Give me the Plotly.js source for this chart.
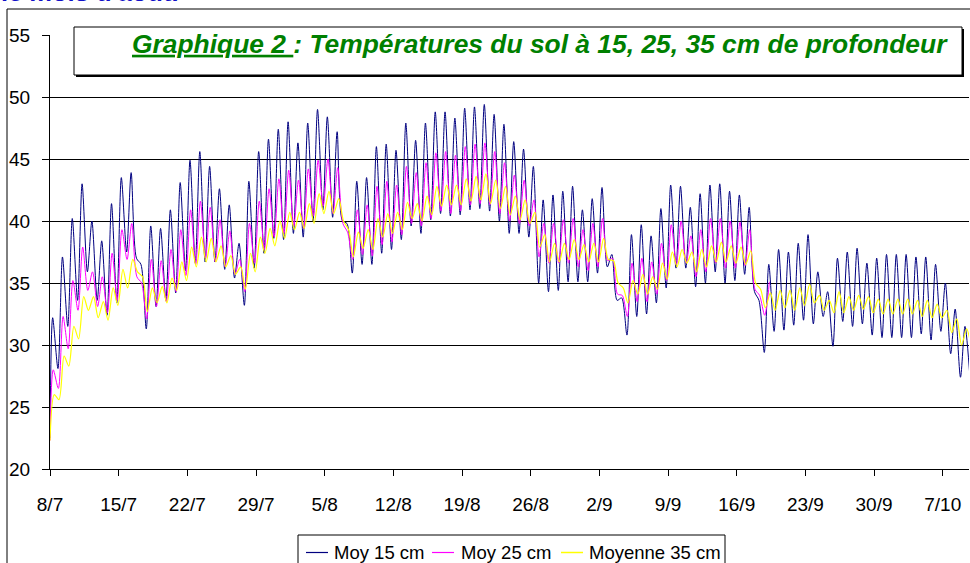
<!DOCTYPE html>
<html>
<head>
<meta charset="utf-8">
<script src="https://cdn.plot.ly/plotly-3.0.1.min.js"></script>
<style>
  html, body { margin: 0; padding: 0; background: #fff; }
  #chart { width: 970px; height: 563px; }
</style>
</head>
<body>
<div id="chart"></div>
<script>
// ---------- DATA ----------
// Day index 0 = 8 July; one daily maximum and one daily minimum per series (°C)
var seriesNames = ['Moy 15 cm', 'Moy 25 cm', 'Moyenne 35 cm'];
var seriesColors = ['#000080', '#FF00FF', '#FFFF00'];

var start15 = 22.5, start25 = 22.3, start35 = 22.3;

var max15 = [32.2, 37.1, 40.2, 43.0, 40.0, 38.4, 41.4, 43.5, 43.9, 36.5,
             39.6, 39.4, 40.9, 43.1, 44.9, 45.6, 44.4, 42.6, 41.3, 38.2,
             43.2, 45.6, 46.6, 47.4, 48.0, 46.3, 47.9, 49.0, 48.4, 47.2,
             39.8, 43.2, 43.5, 46.0, 46.2, 45.7, 47.9, 46.5, 47.9, 48.8,
             48.8, 48.3, 49.1, 49.2, 49.4, 48.6, 47.8, 46.4, 45.8, 44.4,
             41.7, 42.1, 42.4, 42.8, 40.9, 41.8, 42.7, 37.3, 33.8, 38.9,
             39.7, 38.8, 41.0, 42.9, 42.8, 41.1, 42.2, 42.9, 43.0, 42.4,
             42.1, 41.1, 33.6, 36.5, 37.7, 37.5, 38.2, 38.9, 35.9, 34.3,
             37.0, 37.5, 37.8, 36.6, 37.0, 37.3, 37.3, 37.3, 37.1, 37.1,
             36.5, 35.0, 32.9, 31.5];
var min15 = [28.1, 31.5, 33.6, 35.9, 33.6, 32.4, 33.4, 37.5, 37.0, 31.3,
             33.1, 33.6, 34.2, 36.0, 36.6, 36.7, 36.7, 36.1, 35.4, 33.2,
             36.2, 37.4, 38.6, 38.5, 39.0, 38.7, 40.0, 40.9, 40.3, 40.0,
             35.8, 36.5, 36.5, 37.4, 37.7, 38.5, 39.6, 39.0, 40.1, 40.6,
             40.4, 40.5, 40.9, 41.0, 40.8, 40.0, 39.0, 39.0, 38.7, 35.0,
             34.3, 34.4, 35.1, 35.1, 35.1, 35.8, 36.3, 33.6, 30.8, 32.3,
             32.5, 33.4, 34.6, 36.2, 36.2, 34.7, 35.0, 35.9, 35.0, 35.2,
             35.7, 34.3, 29.4, 31.1, 31.2, 31.6, 32.0, 31.7, 32.3, 29.9,
             31.9, 31.5, 31.7, 30.8, 30.6, 30.6, 30.6, 30.6, 30.9, 30.4,
             31.1, 29.3, 27.4, 27.0];

var max25 = [28.0, 32.3, 35.2, 37.9, 35.9, 35.5, 37.4, 39.3, 39.8, 35.0,
             36.9, 36.8, 37.7, 39.3, 40.9, 41.6, 41.1, 40.1, 39.2, 36.9,
             39.8, 41.6, 42.6, 43.4, 44.1, 43.3, 44.2, 44.9, 45.0, 44.3,
             39.1, 40.9, 41.3, 42.8, 43.2, 42.9, 44.4, 43.9, 44.7, 45.5,
             45.6, 45.3, 46.0, 46.2, 46.3, 45.6, 44.7, 43.7, 43.3, 41.7,
             39.8, 39.8, 40.1, 40.2, 39.3, 39.8, 40.2, 37.0, 34.0, 36.6,
             37.0, 36.7, 38.2, 39.7, 40.0, 38.8, 39.3, 40.2, 40.2, 40.0,
             39.9, 39.3, 34.0, 35.1];
var min25 = [26.5, 29.7, 32.8, 34.4, 33.1, 32.6, 33.6, 36.9, 35.5, 32.1,
             33.1, 33.5, 34.3, 35.6, 36.5, 37.0, 36.7, 36.3, 35.7, 34.3,
             36.6, 37.7, 38.7, 39.0, 39.6, 39.4, 40.4, 41.2, 40.6, 39.8,
             36.9, 37.3, 37.2, 38.1, 38.3, 38.9, 39.8, 39.6, 40.2, 40.8,
             40.6, 40.8, 41.3, 41.4, 41.3, 40.6, 40.0, 39.8, 39.6, 37.1,
             36.6, 36.6, 36.6, 36.3, 36.0, 36.3, 36.8, 34.1, 32.3, 33.5,
             33.5, 34.1, 35.2, 36.5, 36.6, 35.5, 35.9, 36.6, 36.2, 36.2,
             36.4, 34.5, 32.4];

var max35 = [26.0, 29.1, 31.5, 33.9, 33.9, 33.5, 34.6, 36.1, 36.9, 35.5,
             34.6, 34.7, 35.4, 36.7, 37.9, 38.7, 38.6, 38.0, 37.2, 36.3,
             37.4, 38.7, 39.4, 40.0, 40.7, 40.7, 41.4, 42.2, 42.4, 41.8,
             39.3, 39.1, 39.3, 40.2, 40.6, 40.7, 41.5, 41.4, 42.0, 42.8,
             42.9, 42.9, 43.4, 43.6, 43.8, 43.3, 42.8, 42.0, 41.7, 40.7,
             38.9, 38.2, 38.2, 38.5, 38.1, 38.2, 38.6, 36.8, 34.6, 35.2,
             35.7, 35.5, 36.6, 37.5, 37.7, 37.5, 37.7, 38.0, 38.3, 38.0,
             37.9, 37.6, 34.5, 34.2, 34.4, 34.4, 34.6, 34.9, 34.0, 33.6,
             34.3, 33.9, 34.0, 33.9, 33.7, 33.7, 33.7, 33.7, 33.6, 33.6,
             33.3, 32.8, 32.1, 31.3];
var min35 = [25.6, 28.3, 30.5, 32.8, 32.2, 32.0, 33.2, 34.6, 35.9, 32.7,
             33.4, 33.4, 34.4, 35.2, 36.3, 36.7, 36.7, 36.3, 35.7, 34.5,
             35.9, 37.4, 38.0, 38.6, 39.3, 39.4, 39.8, 40.6, 40.6, 40.0,
             37.1, 37.8, 37.7, 38.7, 39.0, 39.3, 40.2, 40.0, 40.5, 41.2,
             41.3, 41.3, 41.6, 41.7, 41.4, 41.0, 40.5, 40.1, 39.8, 37.9,
             36.7, 36.7, 36.9, 36.9, 36.7, 36.7, 36.9, 35.0, 33.4, 34.1,
             34.1, 34.5, 35.3, 36.3, 36.6, 35.9, 36.3, 36.7, 36.7, 36.6,
             36.5, 35.0, 33.0, 32.8, 33.0, 32.8, 33.2, 33.4, 32.8, 32.6,
             32.6, 32.8, 32.9, 32.6, 32.5, 32.5, 32.5, 32.5, 32.3, 32.2,
             32.2, 31.0, 30.0, 29.8];

// hour of the day at which each depth reaches its daily max / min
var hourMax15 = 6.5, hourMin15 = 19.5;
var hourMax25 = 8.0, hourMin25 = 20.5;
var hourMax35 = 10.5, hourMin35 = 22.0;

var firstDay = '2003-07-08';
var lastHour = 93.68 * 24;

// ---------- BUILD ----------
var day0 = Date.parse(firstDay + 'T00:00:00Z');
function stamp(h) {
  return new Date(day0 + h * 3600000).toISOString().replace('T', ' ').slice(0, 19);
}
function build(startVal, maxs, mins, hMax, hMin) {
  var x = [stamp(0)], y = [startVal];
  for (var d = 0; d < maxs.length; d++) {
    x.push(stamp(d * 24 + hMax)); y.push(maxs[d]);
    if (d < mins.length) { x.push(stamp(d * 24 + hMin)); y.push(mins[d]); }
  }
  return {x: x, y: y};
}
var s15 = build(start15, max15, min15, hourMax15, hourMin15);
var s25 = build(start25, max25, min25, hourMax25, hourMin25);
var s35 = build(start35, max35, min35, hourMax35, hourMin35);
var built = [s15, s25, s35];

var FONT = 'Liberation Sans, Arial, sans-serif';

var traces = built.map(function (s, i) {
  return {x: s.x, y: s.y, name: seriesNames[i], type: 'scatter', mode: 'lines',
          showlegend: false,
          line: {color: seriesColors[i], width: i === 2 ? 1.2 : 1, shape: 'spline', smoothing: 0.8}};
});

// pixel -> paper helpers for decorations
var L = 50, R = 1, T = 35, B = 94, W = 970, H = 563;
var PW = W - L - R, PH = H - T - B;
function px(x) { return (x - L) / PW; }
function py(y) { return (H - B - y) / PH; }

var shapes = [
  // outer chart frame (cropped at right / bottom in the reference)
  {type: 'rect', xref: 'paper', yref: 'paper', layer: 'above',
   x0: px(7), x1: px(990), y0: py(600), y1: py(9),
   line: {color: '#000', width: 1}, fillcolor: 'rgba(0,0,0,0)'},
  // title box shadow
  {type: 'rect', xref: 'paper', yref: 'paper', layer: 'above',
   x0: px(76), x1: px(964), y0: py(77), y1: py(29),
   line: {width: 0}, fillcolor: '#000'},
  // title box
  {type: 'rect', xref: 'paper', yref: 'paper', layer: 'above',
   x0: px(74), x1: px(962), y0: py(75), y1: py(27),
   line: {color: '#000', width: 1}, fillcolor: '#ffffff'},
  // legend box
  {type: 'rect', xref: 'paper', yref: 'paper', layer: 'above',
   x0: px(298), x1: px(725), y0: py(575), y1: py(535),
   line: {color: '#000', width: 1}, fillcolor: '#ffffff'}
];

var annotations = [
  {text: '<b>le mois d\'août.</b>', xref: 'paper', yref: 'paper',
   x: px(-1), xanchor: 'left', y: py(8.5), yanchor: 'bottom',
   showarrow: false, font: {family: FONT, size: 25.5, color: '#1010C8'}}
];

// legend entries (symbol line + label)
var legendLineX = [306, 432, 561];
var legendTextX = [333, 460, 588];
seriesNames.forEach(function (name, i) {
  shapes.push({type: 'line', xref: 'paper', yref: 'paper', layer: 'above',
               x0: px(legendLineX[i]), x1: px(legendLineX[i] + 22),
               y0: py(552.5), y1: py(552.5),
               line: {color: seriesColors[i], width: i === 2 ? 1.5 : 1.2}});
  annotations.push({text: name, xref: 'paper', yref: 'paper',
                    x: px(legendTextX[i] - 1), xanchor: 'left',
                    y: py(552), yanchor: 'middle', showarrow: false,
                    font: {family: FONT, size: 18.5, color: '#000'}});
});

var layout = {
  width: W, height: H,
  margin: {l: L, r: R, t: T, b: B, pad: 0, autoexpand: false},
  paper_bgcolor: '#ffffff', plot_bgcolor: '#ffffff',
  showlegend: false,
  font: {family: FONT, color: '#000'},
  title: {
    text: '<u>Graphique 2 </u>: Températures du sol à 15, 25, 35 cm de profondeur',
    font: {family: FONT, size: 26.4, color: '#008000', weight: 'bold', style: 'italic'},
    xref: 'container', yref: 'container',
    x: 132 / W, xanchor: 'left',
    y: 1 - 43.5 / H, yanchor: 'middle'
  },
  xaxis: {
    type: 'date',
    range: [stamp(0), stamp(lastHour)],
    tick0: firstDay, dtick: 7 * 86400000,
    tickformat: '%-d/%-m',
    ticks: 'outside', ticklen: 6, tickcolor: '#000', tickwidth: 1,
    showline: true, linecolor: '#000', linewidth: 1,
    showgrid: false, zeroline: false,
    tickfont: {family: FONT, size: 19, color: '#000'},
    ticklabelstandoff: 12
  },
  yaxis: {
    range: [20, 55], dtick: 5, tick0: 20,
    ticks: 'outside', ticklen: 7, tickcolor: '#000', tickwidth: 1,
    showline: true, linecolor: '#000', linewidth: 1,
    showgrid: true, gridcolor: '#000', gridwidth: 1, zeroline: false,
    tickfont: {family: FONT, size: 19, color: '#000'},
    ticklabelstandoff: 8
  },
  shapes: shapes,
  annotations: annotations
};

Plotly.newPlot('chart', traces, layout, {displayModeBar: false, staticPlot: true});
</script>
</body>
</html>
